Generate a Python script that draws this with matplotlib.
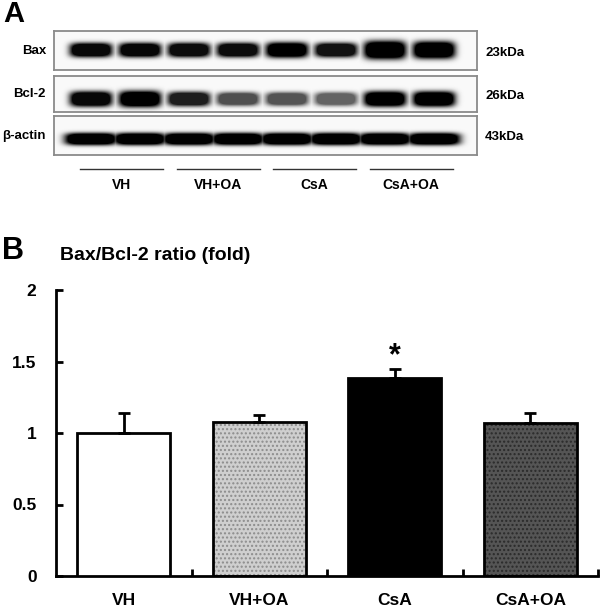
"""
Bax / Bcl-2 western blot + ratio bar chart
"""

import numpy as np
import matplotlib
matplotlib.use("Agg")
import matplotlib.pyplot as plt

plt.rcParams["font.family"] = ["Liberation Sans", "DejaVu Sans"]
plt.rcParams["font.weight"] = "bold"
plt.rcParams["hatch.linewidth"] = 1.0

# -----------------------------------------------------------------------
# Data
# -----------------------------------------------------------------------
groups = ["VH", "VH+OA", "CsA", "CsA+OA"]
ratio_mean = [1.00, 1.077, 1.385, 1.07]
ratio_err = [0.14, 0.05, 0.063, 0.07]
sig_marks = ["", "", "*", ""]

blot_rows = ["Bax", "Bcl-2", "β-actin"]
blot_kda = ["23kDa", "26kDa", "43kDa"]
# relative band darkness per lane (2 lanes per group)
bax_bands = [0.97, 0.97, 0.95, 0.95, 1.0, 0.93, 1.0, 1.0]
bcl2_bands = [0.97, 1.0, 0.88, 0.68, 0.66, 0.6, 1.0, 1.0]
actin_bands = [1.0, 1.0, 1.0, 1.0, 1.0, 1.0, 1.0, 1.0]
# band thickness (px) per lane
bax_thick = [14, 14, 14, 14, 15, 14, 18, 17]
bcl2_thick = [15, 16, 14, 13, 13, 13, 15, 15]
actin_thick = [12, 12, 12, 12, 12, 12, 12, 12]

W, H = 600, 609
fig = plt.figure(figsize=(W / 100, H / 100), dpi=100)


def px_axes(x0, y0, x1, y1):
    """axes from pixel box (top-left origin)"""
    return fig.add_axes([x0 / W, 1 - y1 / H, (x1 - x0) / W, (y1 - y0) / H])


# -----------------------------------------------------------------------
# Panel A: blots
# -----------------------------------------------------------------------
fig.text(3 / W, 1 - 14 / H, "A", fontsize=21, fontweight="bold", va="center", ha="left")

lane_x = 91 + 49 * np.arange(8)
panels = [
    (31, 70, 50, bax_bands, bax_thick, 21),
    (76, 112, 99, bcl2_bands, bcl2_thick, 21),
    (116, 155, 139, actin_bands, actin_thick, 26),
]
bx0, bx1 = 54, 477
for (py0, py1, yc, bands, thick, hw), name, kda in zip(panels, blot_rows, blot_kda):
    ax = px_axes(bx0, py0, bx1, py1)
    xs = np.arange(bx0, bx1) + 0.5
    ys = np.arange(py0, py1) + 0.5
    X, Y = np.meshgrid(xs, ys)
    dark = np.zeros_like(X)
    for c, a, t in zip(lane_x, bands, thick):
        hprof = np.exp(-np.abs((X - c) / hw) ** 5)
        vprof = np.exp(-np.abs((Y - yc) / (t / 2)) ** 3)
        dark = np.maximum(dark, a * np.clip(1.7 * hprof * vprof, 0, 1))
    img = 0.975 - 0.975 * dark
    ax.imshow(img, cmap="gray", vmin=0, vmax=1, aspect="auto",
              extent=(bx0, bx1, py1, py0), interpolation="bilinear")
    ax.set_xticks([])
    ax.set_yticks([])
    for s in ax.spines.values():
        s.set_color("#8a8a8a")
        s.set_linewidth(1.3)
    fig.text(46 / W, 1 - ((py0 + py1) / 2) / H, name, fontsize=9.5, fontweight="bold",
             ha="right", va="center")
    fig.text(485 / W, 1 - ((py0 + py1) / 2 + 2) / H, kda, fontsize=9.5, fontweight="bold",
             ha="left", va="center")

# group lines and labels under the blot
line_ax = px_axes(0, 160, W, 195)
line_ax.set_xlim(0, W)
line_ax.set_ylim(195, 160)
line_ax.axis("off")
for i, g in enumerate(groups):
    x0 = 80 + 96.5 * i
    line_ax.plot([x0, x0 + 83], [169, 169], color="#333333", lw=1.0)
    line_ax.text(x0 + 41.5, 185, g, fontsize=10, fontweight="bold", ha="center", va="center")

# -----------------------------------------------------------------------
# Panel B: Bax/Bcl-2 ratio
# -----------------------------------------------------------------------
fig.text(2 / W, 1 - 251 / H, "B", fontsize=22, fontweight="bold", va="center", ha="left")
fig.text(60 / W, 1 - 256 / H, "Bax/Bcl-2 ratio (fold)", fontsize=14, fontweight="bold",
         va="center", ha="left")

ax = px_axes(56, 290, 598, 576)
x = np.arange(len(groups))
faces = ["white", "#cfcfcf", "black", "#555555"]
hatch_cols = [None, "#8c8c8c", None, "#2a2a2a"]
bw = 0.69
for xi, m, e, fc, hc in zip(x, ratio_mean, ratio_err, faces, hatch_cols):
    if hc is not None:
        ax.bar(xi, m, width=bw, color=fc, edgecolor=hc, hatch="....", linewidth=0, zorder=2)
        ax.bar(xi, m, width=bw, facecolor="none", edgecolor="black", linewidth=2.0, zorder=3)
    else:
        ax.bar(xi, m, width=bw, color=fc, edgecolor="black", linewidth=2.0, zorder=3)
    ax.errorbar(xi, m, yerr=[[0], [e]], fmt="none", ecolor="black", elinewidth=2.0,
                capsize=4, capthick=2.0, zorder=4)

for xi, m, e, s in zip(x, ratio_mean, ratio_err, sig_marks):
    if s:
        ax.text(xi, m + e + 0.09, s, fontsize=22, fontweight="bold", ha="center", va="center")

ax.set_xlim(-0.5, 3.5)
ax.set_ylim(0, 2)
ax.set_yticks([0, 0.5, 1, 1.5, 2])
ax.set_yticklabels(["0", "0.5", "1", "1.5", "2"])
ax.set_xticks(x)
ax.set_xticklabels(groups)
ax.set_xticks([0.5, 1.5, 2.5, 3.5], minor=True)
ax.tick_params(axis="x", which="major", length=0, pad=12, labelsize=12.5)
ax.tick_params(axis="x", which="minor", direction="in", length=5, width=2)
ax.tick_params(axis="y", direction="in", length=5, width=2, pad=14, labelsize=12.5)
for lab in ax.get_xticklabels() + ax.get_yticklabels():
    lab.set_fontweight("bold")
ax.spines["top"].set_visible(False)
ax.spines["right"].set_visible(False)
ax.spines["left"].set_linewidth(2.0)
ax.spines["bottom"].set_linewidth(2.0)
ax.patch.set_alpha(0)

fig.savefig("out.png", dpi=100)
